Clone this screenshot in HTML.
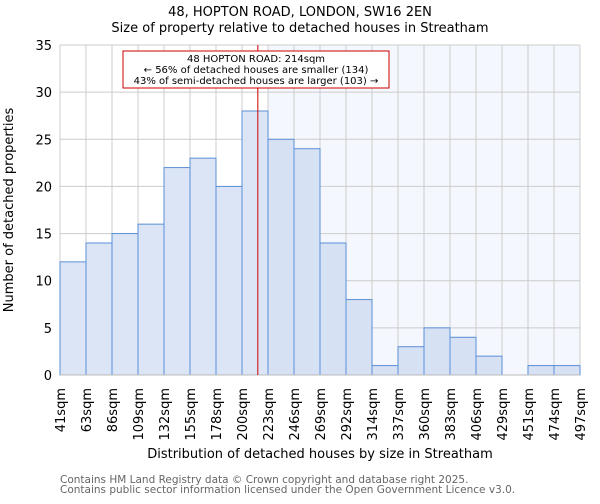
<!DOCTYPE html>
<html><head><meta charset="utf-8"><style>
body{margin:0;background:#fff;font-family:"DejaVu Sans","Liberation Sans",sans-serif}
</style></head><body>
<svg id="chart" width="600" height="500" xmlns="http://www.w3.org/2000/svg" font-family="DejaVu Sans, Liberation Sans, sans-serif">
<text x="300" y="16" text-anchor="middle" font-size="13">48, HOPTON ROAD, LONDON, SW16 2EN</text>
<text x="300" y="32" text-anchor="middle" font-size="13">Size of property relative to detached houses in Streatham</text>
<g id="plot"></g>
<text x="320" y="458" text-anchor="middle" font-size="13">Distribution of detached houses by size in Streatham</text>
<text transform="translate(13,210) rotate(-90)" text-anchor="middle" font-size="13">Number of detached properties</text>
<text x="60" y="483" font-size="10.5" fill="#666">Contains HM Land Registry data © Crown copyright and database right 2025.</text>
<text x="60" y="493" font-size="10.5" fill="#666">Contains public sector information licensed under the Open Government Licence v3.0.</text>
</svg>
<script>
const binLabels=["41sqm","63sqm","86sqm","109sqm","132sqm","155sqm","178sqm","200sqm","223sqm","246sqm","269sqm","292sqm","314sqm","337sqm","360sqm","383sqm","406sqm","429sqm","451sqm","474sqm","497sqm"];
const counts=[12,14,15,16,22,23,20,28,25,24,14,8,1,3,5,4,2,0,1,1];
const yTicks=[0,5,10,15,20,25,30,35];
const propertySize=214;
const highlightBin=7;
const X0=60,X1=580,Y0=375,YT=45,YMAX=35;
const n=counts.length,bw=(X1-X0)/n;
const xs=i=>X0+i*bw;
const ys=v=>Y0-(v/YMAX)*(Y0-YT);
const ns="http://www.w3.org/2000/svg";
const g=document.getElementById('plot');
function mk(t,a){const e=document.createElementNS(ns,t);for(const k in a)e.setAttribute(k,a[k]);g.appendChild(e);return e;}
const sh=mk('rect',{x:xs(highlightBin+1),y:YT,width:X1-xs(highlightBin+1),height:Y0-YT,fill:'#f4f7fd'});


yTicks.forEach(t=>{const l=mk('line',{x1:X0,x2:X1,y1:ys(t),y2:ys(t),stroke:'#ccc'});


const tx=mk('text',{x:X0-8,y:ys(t)+5,'text-anchor':'end','font-size':13});tx.textContent=t;

});
binLabels.forEach((b,i)=>{const l=mk('line',{x1:xs(i),x2:xs(i),y1:YT,y2:Y0,stroke:'#ccc'});


const tx=mk('text',{transform:`translate(${xs(i)+5},${Y0+13}) rotate(-90)`,'text-anchor':'end','font-size':13});tx.textContent=b;

});
counts.forEach((c,i)=>{if(c<=0)return;const r=mk('rect',{x:xs(i),y:ys(c),width:bw,height:Y0-ys(c),fill:i>highlightBin?'#d6e1f4':'#dbe5f5',stroke:'#5b8fd6','stroke-width':1});

});
const ax=mk('line',{x1:X0,x2:X1,y1:Y0,y2:Y0,stroke:'#bbb'});


const lo=parseInt(binLabels[highlightBin]),hi=parseInt(binLabels[highlightBin+1]);
const mx=xs(highlightBin)+bw*(propertySize-lo)/(hi-lo);
const ml=mk('line',{x1:mx,x2:mx,y1:YT,y2:Y0,stroke:'#cc0000','stroke-width':1});


const box=mk('rect',{x:123,y:51,width:266,height:37,fill:'#fff',stroke:'#cc0000'});


["48 HOPTON ROAD: 214sqm","← 56% of detached houses are smaller (134)","43% of semi-detached houses are larger (103) →"].forEach((s,k)=>{
const t=mk('text',{x:256,y:62+k*11,'text-anchor':'middle','font-size':10});t.textContent=s;

});
</script>
</body></html>
